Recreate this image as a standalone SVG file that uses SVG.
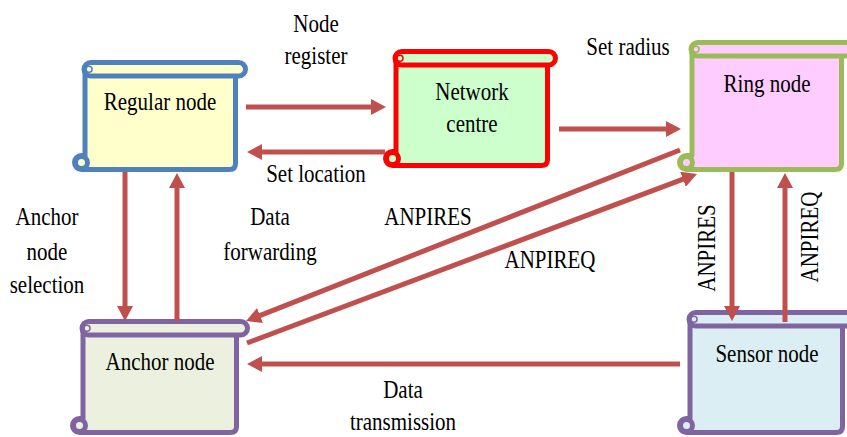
<svg xmlns="http://www.w3.org/2000/svg" width="847" height="437" viewBox="0 0 847 437">
<style>
  .node path, .node rect, .node circle { stroke-width: 5; stroke-linejoin: round; }
  .node .tc { stroke-width: 1.5; }
  .arrow { stroke: #C0504D; stroke-width: 5; fill: none; marker-end: url(#ah); }
  text { font-size: 25px; fill: #000; stroke: none; text-anchor: middle; }
</style>
<defs>
  <marker id="ah" markerUnits="userSpaceOnUse" viewBox="0 0 15 16" refX="3" refY="8" markerWidth="15" markerHeight="16" orient="auto">
    <path d="M0,0 L15,8 L0,16 Z" fill="#C0504D"/>
  </marker>
</defs>
<rect width="847" height="437" fill="#fff"/>

<g font-family="'Liberation Serif', 'Times New Roman', serif">
<g id="regular-node" class="node" fill="#FFFFCC" stroke="#4F81BD">
  <path d="M85,70 H235.5 V163.5 Q235.5,169.5 229.5,169.5 H81.5 A7,7 0 0 1 81.5,155.5 H85 Z"/>
  <rect x="84" y="62.5" width="161.5" height="13.5" rx="6.75"/>
  <circle cx="81.5" cy="162.5" r="6"/>
  <circle class="tc" cx="89" cy="69.25" r="3"/>
  <text transform="translate(160,110) scale(0.84,1)">Regular node</text>
</g>

<g id="network-centre" class="node" fill="#CCFFCC" stroke="#FF0000">
  <path d="M396,59 H547.5 V159.5 Q547.5,165.5 541.5,165.5 H392.5 A7,7 0 0 1 392.5,151.5 H396 Z"/>
  <rect x="395" y="51.5" width="160.5" height="13.5" rx="6.75"/>
  <circle cx="392.5" cy="158.5" r="6"/>
  <circle class="tc" cx="400" cy="58.25" r="3"/>
  <text transform="translate(472,100) scale(0.84,1)">Network</text>
  <text transform="translate(472,132) scale(0.84,1)">centre</text>
</g>

<g id="ring-node" class="node" fill="#FFCCFF" stroke="#9BBB59">
  <path d="M692,50 H841.5 V163.5 Q841.5,169.5 835.5,169.5 H686.5 A7,7 0 0 1 686.5,155.5 H692 Z"/>
  <rect x="691" y="42.5" width="163.5" height="13.5" rx="6.75"/>
  <circle cx="686.5" cy="162.5" r="6"/>
  <circle class="tc" cx="696" cy="49.25" r="3"/>
  <text transform="translate(767,92) scale(0.84,1)">Ring node</text>
</g>

<g id="anchor-node" class="node" fill="#EBF1DE" stroke="#8064A2">
  <path d="M83,329 H236.5 V426.5 Q236.5,432.5 230.5,432.5 H79.5 A7,7 0 0 1 79.5,418.5 H83 Z"/>
  <rect x="82" y="321.5" width="165.5" height="13.5" rx="6.75"/>
  <circle cx="79.5" cy="425.5" r="6"/>
  <circle class="tc" cx="87" cy="328.25" r="3"/>
  <text transform="translate(160,370) scale(0.84,1)">Anchor node</text>
</g>

<g id="sensor-node" class="node" fill="#DAEEF3" stroke="#8064A2">
  <path d="M690,320 H842.5 V426.5 Q842.5,432.5 836.5,432.5 H686.5 A7,7 0 0 1 686.5,418.5 H690 Z"/>
  <rect x="689" y="312.5" width="164" height="13.5" rx="6.75"/>
  <circle cx="686.5" cy="425.5" r="6"/>
  <circle class="tc" cx="694" cy="319.25" r="3"/>
  <text transform="translate(767,362) scale(0.84,1)">Sensor node</text>
</g>

<g id="connectors">
  <path class="arrow" d="M246,107 L374,107"/>
  <path class="arrow" d="M385,152 L259,152"/>
  <path class="arrow" d="M559,129 L669,129"/>
  <path class="arrow" d="M125,172 L125,309"/>
  <path class="arrow" d="M177,321 L177,185"/>
  <path class="arrow" d="M680,150 L257.2,316.6"/>
  <path class="arrow" d="M247,343 L685.8,178.2"/>
  <path class="arrow" d="M732,172 L732,309"/>
  <path class="arrow" d="M785,322 L785,185"/>
  <path class="arrow" d="M680,364 L259,364"/>
</g>

<g id="labels">
  <text transform="translate(316,32) scale(0.84,1)">Node</text>
  <text transform="translate(316,64) scale(0.84,1)">register</text>
  <text transform="translate(316,182) scale(0.84,1)">Set location</text>
  <text transform="translate(628,55) scale(0.84,1)">Set radius</text>
  <text transform="translate(47,225) scale(0.84,1)">Anchor</text>
  <text transform="translate(47,260) scale(0.84,1)">node</text>
  <text transform="translate(47,293) scale(0.84,1)">selection</text>
  <text transform="translate(270,225) scale(0.84,1)">Data</text>
  <text transform="translate(270,260) scale(0.84,1)">forwarding</text>
  <text transform="translate(428,225) scale(0.84,1)">ANPIRES</text>
  <text transform="translate(550,268) scale(0.84,1)">ANPIREQ</text>
  <text transform="translate(715,248) rotate(-90) scale(0.84,1)">ANPIRES</text>
  <text transform="translate(818,237) rotate(-90) scale(0.84,1)">ANPIREQ</text>
  <text transform="translate(403,398) scale(0.84,1)">Data</text>
  <text transform="translate(403,430) scale(0.84,1)">transmission</text>
</g>
</g>
</svg>
